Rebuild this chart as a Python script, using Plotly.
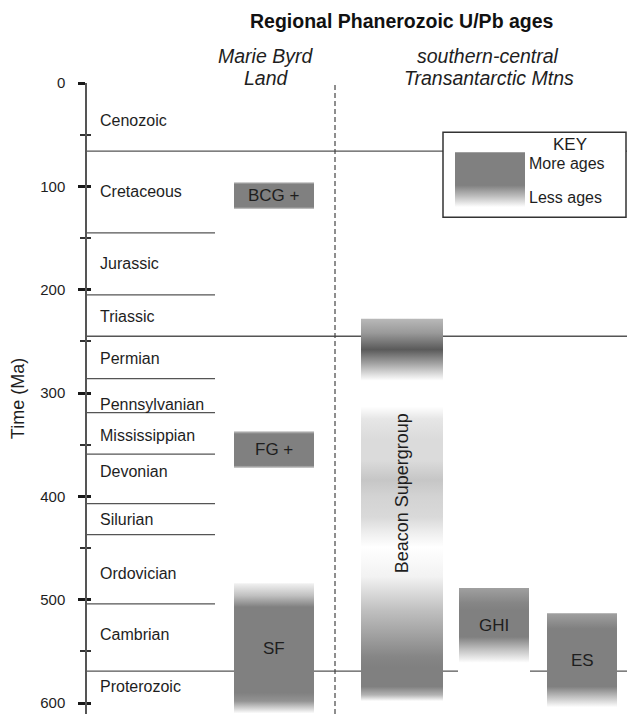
import plotly.graph_objects as go

# ---- Geologic time scale (Ma) ----
period_names = ["Cenozoic", "Cretaceous", "Jurassic", "Triassic", "Permian",
                "Pennsylvanian", "Mississippian", "Devonian", "Silurian",
                "Ordovician", "Cambrian", "Proterozoic"]
period_label_age = [36, 105, 175, 226, 266.5, 311, 341, 375.5, 422, 474.5, 534, 584]
short_boundaries = [145, 205, 286, 319, 359, 407, 437, 504]
long_boundaries = [66, 245, 569]
major_ticks = [0, 100, 200, 300, 400, 500, 600]
minor_ticks = [50, 150, 250, 350, 450, 550]

# ---- U/Pb age clusters: relative abundance of ages through time ----
bcg_age = [96, 98, 120, 122]
bcg_density = [0.45, 1.0, 1.0, 0.35]

fg_age = [337, 339.5, 370, 372.5]
fg_density = [0.45, 1.0, 1.0, 0.35]

sf_age = [484, 496, 507, 590, 598, 610]
sf_density = [0.1, 0.5, 1.0, 1.0, 0.85, 0.0]

beacon_age = [228, 242, 258, 271, 281, 288,
              313, 325, 345, 365, 384, 400, 420, 435, 449,
              478, 490, 510, 535, 555, 565, 584, 592, 598]
beacon_density = [0.55, 0.8, 1.3, 0.75, 0.3, 0.0,
                  0.0, 0.2, 0.28, 0.28, 0.45, 0.35, 0.3, 0.13, 0.0,
                  0.1, 0.25, 0.5, 0.75, 0.95, 1.0, 1.0, 0.6, 0.0]

ghi_age = [488.5, 503, 510, 536, 548, 561]
ghi_density = [0.75, 0.95, 1.0, 1.0, 0.5, 0.0]

es_age = [513, 528, 584, 594, 604]
es_density = [0.75, 1.0, 1.0, 0.5, 0.0]

key_age = [67, 99, 110, 120]
key_density = [1.0, 1.0, 0.5, 0.0]

sample_names = ["BCG +", "FG +", "SF", "Beacon Supergroup", "GHI", "ES"]
sample_label_age = [109, 355, 547, 397, 525, 558.5]

# ---- layout helpers ----
FONT = "Liberation Sans, Arial, sans-serif"
TXT = "#1e1e1e"
LINE = "#555555"
W, H = 627, 714
TOP, LEFT = 83, 87
AGE_MAX = 610.5

# column extents (horizontal, in chart x units = pixels from left)
col_mbl = (234, 314)
col_beacon = (361, 443)
col_ghi = (459, 529)
col_es = (547, 617)
divider_x = 335
short_line_end = 215


def shade(d):
    g = int(round(max(0, min(255, 255 - 127 * d))))
    return f"rgb({g},{g},{g})"


def gradient_bar(fig, cols, ages, dens):
    top, bot = ages[0], ages[-1]
    cs = [[(a - top) / (bot - top), shade(d)] for a, d in zip(ages, dens)]
    x0, x1 = cols
    fig.add_trace(go.Scatter(
        x=[x0, x1, x1, x0, x0], y=[top, top, bot, bot, top],
        mode="lines", line=dict(width=0), fill="toself",
        fillgradient=dict(type="vertical", colorscale=cs, start=top, stop=bot),
        hoverinfo="skip", showlegend=False))


fig = go.Figure()

bars = [
    (col_mbl, bcg_age, bcg_density),
    (col_mbl, fg_age, fg_density),
    (col_mbl, sf_age, sf_density),
    (col_beacon, beacon_age, beacon_density),
    (col_ghi, ghi_age, ghi_density),
    (col_es, es_age, es_density),
]
for cols, ages, dens in bars:
    gradient_bar(fig, cols, ages, dens)

# key swatch
key_box = (443, 626, 47.7, 130)
gradient_bar(fig, (455, 525), key_age, key_density)

# invisible trace for the overlaid tick axis (inner half of the ticks)
fig.add_trace(go.Scatter(x=[None], y=[None], yaxis="y2", showlegend=False,
                         hoverinfo="skip"))

shapes = []
for b in short_boundaries:
    shapes.append(dict(type="line", xref="x", yref="y", x0=LEFT, x1=short_line_end,
                       y0=b, y1=b, line=dict(color=LINE, width=1.3), layer="below"))
for b in long_boundaries:
    if b == 569:
        segs = [(LEFT, col_ghi[0] - 1), (col_ghi[1] + 1, W)]
    else:
        segs = [(LEFT, W)]
    for s0, s1 in segs:
        shapes.append(dict(type="line", xref="x", yref="y", x0=s0, x1=s1,
                           y0=b, y1=b, line=dict(color=LINE, width=1.3), layer="below"))
# key box (after the lines so it hides the boundary behind it)
shapes.append(dict(type="rect", xref="x", yref="y", x0=key_box[0], x1=key_box[1],
                   y0=key_box[2], y1=key_box[3], fillcolor="white",
                   line=dict(color="#333333", width=1.5), layer="below"))
# dashed divider between regions
shapes.append(dict(type="line", xref="x", yref="paper", x0=divider_x, x1=divider_x,
                   y0=0, y1=1, line=dict(color="#444444", width=1.2, dash="5px,3px"),
                   layer="above"))

ann = []


def py(p):
    # figure pixel row -> paper coordinate
    return (H - p) / (H - TOP)


ann.append(dict(text="<b>Regional Phanerozoic U/Pb ages</b>", xref="x", yref="paper",
                x=402, y=py(21), yanchor="middle", showarrow=False,
                font=dict(size=19.5, color="#111", family=FONT)))
for txt, x, p in [("<i>Marie Byrd</i>", 265, 56), ("<i>Land</i>", 266, 78),
                  ("<i>southern-central</i>", 488, 56), ("<i>Transantarctic Mtns</i>", 489, 78)]:
    ann.append(dict(text=txt, xref="x", yref="paper", x=x, y=py(p), yanchor="middle",
                    showarrow=False, font=dict(size=19.5, color=TXT, family=FONT)))

for name, a in zip(period_names, period_label_age):
    ann.append(dict(text=name, xref="x", yref="y", x=98, y=a, xanchor="left",
                    yanchor="middle", showarrow=False,
                    font=dict(size=16, color=TXT, family=FONT)))

bar_cols = [col_mbl, col_mbl, col_mbl, col_beacon, col_ghi, col_es]
for name, a, cols in zip(sample_names, sample_label_age, bar_cols):
    beacon = name.startswith("Beacon")
    ann.append(dict(text=name, xref="x", yref="y", x=(cols[0] + cols[1]) / 2, y=a,
                    showarrow=False, textangle=-90 if beacon else 0,
                    font=dict(size=18 if beacon else 17, color=TXT, family=FONT)))

ann.append(dict(text="KEY", xref="x", yref="y", x=570, y=59.3, showarrow=False,
                font=dict(size=17, color=TXT, family=FONT)))
ann.append(dict(text="More ages", xref="x", yref="y", x=527, y=77.6, xanchor="left",
                showarrow=False, font=dict(size=16, color=TXT, family=FONT)))
ann.append(dict(text="Less ages", xref="x", yref="y", x=527, y=110.5, xanchor="left",
                showarrow=False, font=dict(size=16, color=TXT, family=FONT)))

common_y = dict(range=[AGE_MAX, 0], tickvals=major_ticks, showgrid=False,
                zeroline=False, tickwidth=3, tickcolor="#1a1a1a")

fig.update_layout(
    width=W, height=H,
    margin=dict(l=LEFT, r=0, t=TOP, b=0, pad=0),
    paper_bgcolor="white", plot_bgcolor="white",
    showlegend=False,
    xaxis=dict(range=[LEFT, W], visible=False, fixedrange=True),
    yaxis=dict(**common_y, showline=True, linecolor=LINE, linewidth=1.5,
               ticks="outside", ticklen=7, ticklabelstandoff=10,
               minor=dict(tickvals=minor_ticks, ticks="outside", ticklen=5,
                          tickwidth=1.5, tickcolor="#333"),
               tickfont=dict(size=15, color=TXT, family=FONT),
               title=dict(text="Time (Ma)", standoff=11,
                          font=dict(size=18, color=TXT, family=FONT))),
    yaxis2=dict(**common_y, overlaying="y", side="left", anchor="x",
                showline=False, ticks="inside", ticklen=4, showticklabels=False,
                minor=dict(tickvals=minor_ticks, ticks="inside", ticklen=4,
                           tickwidth=1.5, tickcolor="#333")),
    shapes=shapes,
    annotations=ann,
)

fig.write_html("out.html")
